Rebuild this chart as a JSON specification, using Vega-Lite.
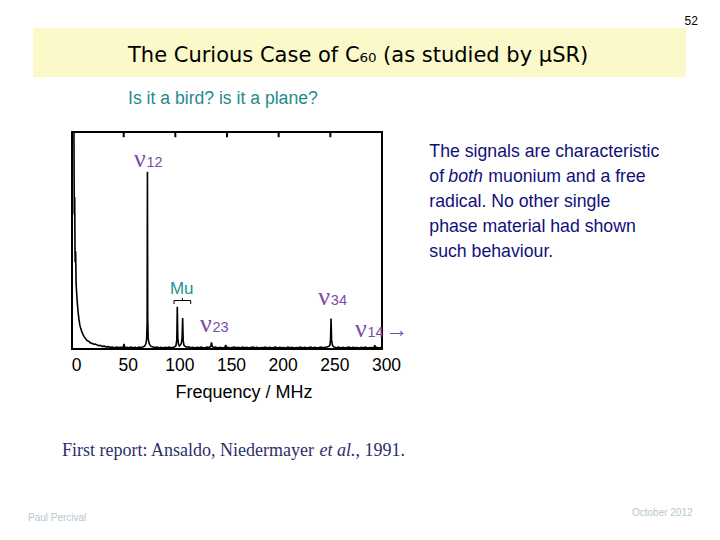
{
  "$schema": "https://vega.github.io/schema/vega-lite/v6.json",
  "autosize": "none",
  "width": 310,
  "height": 217,
  "padding": {"left": 72, "top": 132, "right": 338, "bottom": 191},
  "background": "white",
  "config": {"view": {"stroke": "black", "strokeWidth": 2}},
  "datasets": {
    "spectrum": [
      {"f":0,"a":120},{"f":1,"a":120},{"f":1.8,"a":110},{"f":2.2,"a":62},{"f":2.6,"a":70},{"f":3,"a":40},{"f":3.5,"a":45},{"f":4,"a":30},{"f":4.6,"a":25},{"f":5.2,"a":21},{"f":6,"a":16.5},{"f":6.8,"a":13.5},{"f":7.6,"a":11},{"f":8.4,"a":9.5},{"f":9.5,"a":8},{"f":10.5,"a":6.8},{"f":11.6,"a":5.8},{"f":13,"a":4.8},{"f":14.5,"a":4.0},{"f":16.5,"a":3.4},{"f":18,"a":2.8},{"f":19.5,"a":2.6},{"f":21,"a":2.2},{"f":22.5,"a":2.3},{"f":24.5,"a":1.8},{"f":26,"a":1.5},{"f":27.5,"a":1.7},{"f":29,"a":1.2},{"f":31,"a":1.3},{"f":33,"a":1.0},{"f":35,"a":1.1},{"f":37,"a":0.8},{"f":39,"a":0.9},{"f":41,"a":0.6},{"f":43,"a":0.9},{"f":45,"a":0.7},{"f":47,"a":0.8},{"f":49.5,"a":0.7},{"f":50.3,"a":2.3},{"f":51,"a":0.6},{"f":53,"a":0.8},{"f":55,"a":0.6},{"f":57,"a":0.9},{"f":59,"a":0.6},{"f":61,"a":0.8},{"f":63,"a":0.5},{"f":65,"a":0.9},{"f":67,"a":0.7},{"f":69,"a":1.0},{"f":70.5,"a":1.4},{"f":71.5,"a":2.4},{"f":72.2,"a":4.5},{"f":72.7,"a":12},{"f":73,"a":81.7},{"f":73.3,"a":14},{"f":73.7,"a":5},{"f":74.3,"a":3.2},{"f":75.2,"a":2},{"f":76.5,"a":1.2},{"f":78,"a":1.0},{"f":80,"a":0.7},{"f":82,"a":0.9},{"f":84,"a":0.6},{"f":86,"a":0.8},{"f":88,"a":0.5},{"f":90,"a":0.8},{"f":92,"a":0.6},{"f":94,"a":0.9},{"f":96,"a":0.6},{"f":98,"a":0.8},{"f":99.5,"a":1.0},{"f":100.6,"a":1.6},{"f":101.4,"a":4},{"f":101.9,"a":19.5},{"f":102.4,"a":5},{"f":103,"a":2.4},{"f":103.8,"a":1.4},{"f":104.8,"a":1.8},{"f":105.8,"a":2.6},{"f":106.5,"a":5},{"f":107.1,"a":14.3},{"f":107.6,"a":4},{"f":108.3,"a":1.8},{"f":109.5,"a":1.2},{"f":111,"a":0.8},{"f":113,"a":1.0},{"f":115,"a":0.6},{"f":117,"a":0.8},{"f":119,"a":0.5},{"f":121,"a":0.8},{"f":123,"a":0.6},{"f":125,"a":0.9},{"f":127,"a":0.6},{"f":129,"a":0.7},{"f":131,"a":0.9},{"f":133,"a":0.7},{"f":134.3,"a":1.2},{"f":135,"a":3.0},{"f":135.7,"a":1.1},{"f":137,"a":0.7},{"f":139,"a":0.9},{"f":141,"a":0.5},{"f":143,"a":0.8},{"f":145,"a":0.6},{"f":147,"a":0.7},{"f":148.2,"a":0.8},{"f":148.7,"a":1.9},{"f":149.3,"a":0.6},{"f":151,"a":0.8},{"f":153,"a":0.5},{"f":155,"a":0.7},{"f":157,"a":0.9},{"f":159,"a":0.6},{"f":161,"a":0.8},{"f":163,"a":0.5},{"f":165,"a":0.9},{"f":167,"a":0.6},{"f":169,"a":0.8},{"f":171,"a":0.5},{"f":173,"a":0.7},{"f":175,"a":0.9},{"f":177,"a":0.6},{"f":179,"a":0.8},{"f":181,"a":0.5},{"f":183,"a":0.7},{"f":185,"a":0.6},{"f":187,"a":0.9},{"f":189,"a":0.5},{"f":191,"a":0.8},{"f":193,"a":0.6},{"f":195,"a":0.7},{"f":197,"a":0.9},{"f":199,"a":0.5},{"f":201,"a":0.8},{"f":203,"a":0.6},{"f":205,"a":0.7},{"f":207,"a":0.5},{"f":209,"a":0.9},{"f":211,"a":0.6},{"f":213,"a":0.8},{"f":215,"a":0.5},{"f":217,"a":0.7},{"f":219,"a":0.6},{"f":221,"a":0.9},{"f":223,"a":0.5},{"f":225,"a":0.8},{"f":227,"a":0.6},{"f":229,"a":0.7},{"f":231,"a":0.9},{"f":233,"a":0.5},{"f":235,"a":0.8},{"f":237,"a":0.6},{"f":239,"a":0.7},{"f":241,"a":0.9},{"f":243,"a":0.6},{"f":245,"a":0.8},{"f":247,"a":0.9},{"f":248.5,"a":1.2},{"f":249.6,"a":1.8},{"f":250.2,"a":4.5},{"f":250.7,"a":14.1},{"f":251.2,"a":4.2},{"f":251.9,"a":2.0},{"f":253,"a":1.1},{"f":254.5,"a":0.8},{"f":256,"a":0.6},{"f":258,"a":0.9},{"f":260,"a":0.5},{"f":262,"a":0.8},{"f":264,"a":0.6},{"f":266,"a":0.7},{"f":268,"a":0.9},{"f":270,"a":0.5},{"f":272,"a":0.8},{"f":274,"a":0.6},{"f":276,"a":0.7},{"f":278,"a":0.5},{"f":280,"a":0.8},{"f":282,"a":0.6},{"f":284,"a":0.9},{"f":286,"a":0.5},{"f":288,"a":0.7},{"f":290,"a":0.6},{"f":292,"a":0.8},{"f":292.6,"a":0.7},{"f":293,"a":1.8},{"f":293.5,"a":0.6},{"f":295,"a":0.8},{"f":297,"a":0.5},{"f":299,"a":0.7},{"f":300,"a":0.6}
    ],
    "band": [{"f1": -37.7, "f2": 594.2, "a1": 125.3, "a2": 147.9}],
    "topTicks": [{"f": 50}, {"f": 100}, {"f": 150}, {"f": 200}, {"f": 250}],
    "titleText": [{"t": "The Curious Case of C₆₀ (as studied by µSR)", "f": 54.2, "a": 132.3}],
    "subtitleText": [{"t": "Is it a bird? is it a plane?", "f": 54.2, "a": 112.9}],
    "para": [
      {"t": "The signals are characteristic", "f": 345.8, "a": 88.6},
      {"t": "of", "f": 345.8, "a": 77.1},
      {"t": "muonium and a free", "f": 402.9, "a": 77.1},
      {"t": "radical.  No other single", "f": 345.8, "a": 65.6},
      {"t": "phase material had shown", "f": 345.8, "a": 54.1},
      {"t": "such behaviour.", "f": 345.8, "a": 42.5}
    ],
    "paraItalic": [{"t": "both", "f": 364.2, "a": 77.1}],
    "greek": [
      {"g": "ν", "s": "12", "f": 60.0, "a": 83.7},
      {"g": "ν", "s": "34", "f": 238.4, "a": 20.3},
      {"g": "ν", "s": "23", "f": 123.9, "a": 7.7},
      {"g": "ν", "s": "14", "f": 273.9, "a": 5.7}
    ],
    "arrow": [{"t": "→", "f": 302.9, "a": 5.7}],
    "mu": [{"t": "Mu", "f": 94.8, "a": 25.3}],
    "brace": [
      {"f1": 98.7, "f2": 114.9, "a1": 22.35, "a2": 22.35},
      {"f1": 98.7, "f2": 98.7, "a1": 22.35, "a2": 20.7},
      {"f1": 114.9, "f2": 114.9, "a1": 22.35, "a2": 20.7},
      {"f1": 106.8, "f2": 106.8, "a1": 22.35, "a2": 23.5}
    ],
    "report": [
      {"t": "First report: Ansaldo, Niedermayer", "f": -9.7, "a": -49.3},
      {"t": ", 1991.", "f": 274.4, "a": -49.3}
    ],
    "reportItalic": [{"t": "et al.", "f": 239.5, "a": -49.3}],
    "footer": [
      {"t": "Paul Percival", "f": -42.6, "a": -79.3},
      {"t": "October 2012", "f": 541.9, "a": -77.0}
    ],
    "page": [{"t": "52", "f": 592.7, "a": 149.5}]
  },
  "layer": [
    {
      "data": {"name": "band"},
      "mark": {"type": "rect", "color": "#fbf9c9"},
      "encoding": {
        "x": {"field": "f1", "type": "quantitative", "scale": {"domain": [0, 300], "nice": false, "zero": false},
              "axis": {"orient": "bottom", "values": [0, 50, 100, 150, 200, 250, 300], "ticks": false, "tickSize": 0, "domain": false, "grid": false,
                       "labelFont": "Liberation Sans", "labelFontSize": 17.5, "labelColor": "black", "labelPadding": 7, "labelOffset": 4, "labelFlush": false, "labelOverlap": false,
                       "title": "Frequency / MHz", "titleFont": "Liberation Sans", "titleFontSize": 18, "titleFontWeight": "normal", "titleColor": "black", "titlePadding": 10, "titleX": 171.5}},
        "x2": {"field": "f2"},
        "y": {"field": "a1", "type": "quantitative", "scale": {"domain": [0, 100], "nice": false, "zero": false}, "axis": null},
        "y2": {"field": "a2"}
      }
    },
    {
      "data": {"name": "topTicks"},
      "mark": {"type": "rule", "color": "black", "strokeWidth": 2},
      "encoding": {
        "x": {"field": "f", "type": "quantitative"},
        "y": {"datum": 100, "type": "quantitative"},
        "y2": {"datum": 97.6}
      }
    },
    {
      "data": {"name": "spectrum"},
      "mark": {"type": "line", "color": "black", "strokeWidth": 1.6, "clip": true},
      "encoding": {
        "x": {"field": "f", "type": "quantitative"},
        "y": {"field": "a", "type": "quantitative"}
      }
    },
    {
      "data": {"name": "titleText"},
      "mark": {"type": "text", "align": "left", "baseline": "alphabetic", "font": "DejaVu Sans", "fontSize": 21, "color": "black"},
      "encoding": {
        "x": {"field": "f", "type": "quantitative"},
        "y": {"field": "a", "type": "quantitative"},
        "text": {"field": "t"}
      }
    },
    {
      "data": {"name": "subtitleText"},
      "mark": {"type": "text", "align": "left", "baseline": "alphabetic", "font": "Liberation Sans", "fontSize": 17.6, "color": "#1e8c8c"},
      "encoding": {
        "x": {"field": "f", "type": "quantitative"},
        "y": {"field": "a", "type": "quantitative"},
        "text": {"field": "t"}
      }
    },
    {
      "data": {"name": "para"},
      "mark": {"type": "text", "align": "left", "baseline": "alphabetic", "font": "Liberation Sans", "fontSize": 17.7, "color": "#10107a"},
      "encoding": {
        "x": {"field": "f", "type": "quantitative"},
        "y": {"field": "a", "type": "quantitative"},
        "text": {"field": "t"}
      }
    },
    {
      "data": {"name": "paraItalic"},
      "mark": {"type": "text", "align": "left", "baseline": "alphabetic", "font": "Liberation Sans", "fontSize": 17.7, "fontStyle": "italic", "color": "#10107a"},
      "encoding": {
        "x": {"field": "f", "type": "quantitative"},
        "y": {"field": "a", "type": "quantitative"},
        "text": {"field": "t"}
      }
    },
    {
      "data": {"name": "greek"},
      "mark": {"type": "text", "align": "left", "baseline": "alphabetic", "font": "Liberation Serif", "fontSize": 26, "color": "#7b4aa8"},
      "encoding": {
        "x": {"field": "f", "type": "quantitative"},
        "y": {"field": "a", "type": "quantitative"},
        "text": {"field": "g"}
      }
    },
    {
      "data": {"name": "greek"},
      "mark": {"type": "text", "align": "left", "baseline": "alphabetic", "font": "Liberation Sans", "fontSize": 14.5, "dx": 12.5, "color": "#7b4aa8"},
      "encoding": {
        "x": {"field": "f", "type": "quantitative"},
        "y": {"field": "a", "type": "quantitative"},
        "text": {"field": "s"}
      }
    },
    {
      "data": {"name": "arrow"},
      "mark": {"type": "text", "align": "left", "baseline": "alphabetic", "font": "Liberation Serif", "fontSize": 23, "color": "#7b4aa8"},
      "encoding": {
        "x": {"field": "f", "type": "quantitative"},
        "y": {"field": "a", "type": "quantitative"},
        "text": {"field": "t"}
      }
    },
    {
      "data": {"name": "mu"},
      "mark": {"type": "text", "align": "left", "baseline": "alphabetic", "font": "Liberation Sans", "fontSize": 17, "color": "#1a9494"},
      "encoding": {
        "x": {"field": "f", "type": "quantitative"},
        "y": {"field": "a", "type": "quantitative"},
        "text": {"field": "t"}
      }
    },
    {
      "data": {"name": "brace"},
      "mark": {"type": "rule", "color": "black", "strokeWidth": 1},
      "encoding": {
        "x": {"field": "f1", "type": "quantitative"},
        "x2": {"field": "f2"},
        "y": {"field": "a1", "type": "quantitative"},
        "y2": {"field": "a2"}
      }
    },
    {
      "data": {"name": "report"},
      "mark": {"type": "text", "align": "left", "baseline": "alphabetic", "font": "Liberation Serif", "fontSize": 18, "color": "#2e2e6a"},
      "encoding": {
        "x": {"field": "f", "type": "quantitative"},
        "y": {"field": "a", "type": "quantitative"},
        "text": {"field": "t"}
      }
    },
    {
      "data": {"name": "reportItalic"},
      "mark": {"type": "text", "align": "left", "baseline": "alphabetic", "font": "Liberation Serif", "fontSize": 18, "fontStyle": "italic", "color": "#2e2e6a"},
      "encoding": {
        "x": {"field": "f", "type": "quantitative"},
        "y": {"field": "a", "type": "quantitative"},
        "text": {"field": "t"}
      }
    },
    {
      "data": {"name": "footer"},
      "mark": {"type": "text", "align": "left", "baseline": "alphabetic", "font": "Liberation Sans", "fontSize": 10, "color": "#b4c8d0"},
      "encoding": {
        "x": {"field": "f", "type": "quantitative"},
        "y": {"field": "a", "type": "quantitative"},
        "text": {"field": "t"}
      }
    },
    {
      "data": {"name": "page"},
      "mark": {"type": "text", "align": "left", "baseline": "alphabetic", "font": "Liberation Sans", "fontSize": 12, "color": "black"},
      "encoding": {
        "x": {"field": "f", "type": "quantitative"},
        "y": {"field": "a", "type": "quantitative"},
        "text": {"field": "t"}
      }
    }
  ]
}
